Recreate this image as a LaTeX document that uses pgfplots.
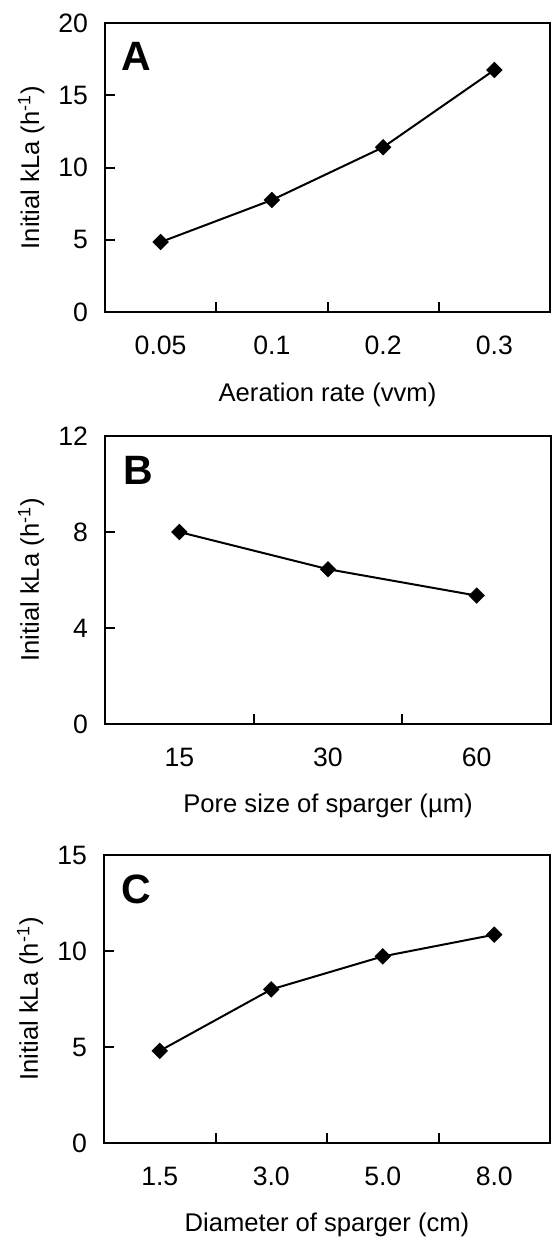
\documentclass[border=0pt]{standalone}
\usepackage{fontspec}
\setmainfont{Liberation Sans}
\usepackage{pgfplots}
\pgfplotsset{compat=1.18}

% shared look of the three kLa panels
\pgfplotsset{kla/.style={
    scale only axis, anchor=north west,
    axis line style={line width=1pt},
    every tick/.style={line width=1pt, black},
    tick align=inside, xtick pos=bottom, ytick pos=left,
    major tick length=5pt,
    xmin=0, ymin=0,
    xticklabels={},
    extra x tick style={major tick length=0pt},
    tick label style={font=\fontsize{13.3}{15}\selectfont},
    xticklabel style={yshift=-8.5pt},
    yticklabel style={xshift=-5pt},
    /pgf/number format/assume math mode=true,
    label style={font=\fontsize{12.8}{15}\selectfont},
    ylabel={Initial kLa (h\textsuperscript{-1})},
    ylabel style={at={(axis description cs:-0.148,0.5)}, anchor=base},
    xlabel style={at={(axis description cs:0.5,-0.308)}, anchor=base},
  }
}
\tikzset{panel/.style={font=\fontsize{20.5}{22}\selectfont\bfseries, inner sep=0pt, anchor=north west}}

\begin{document}
\begin{tikzpicture}
% A: aeration rate
\begin{axis}[kla, at={(52.5pt,-11.5pt)}, width=222.5pt, height=144.5pt,
    xmax=4, ymax=20, ytick={0,5,10,15,20},
    xtick={1,2,3},
    extra x ticks={0.5,1.5,2.5,3.5},
    extra x tick labels={0.05,0.1,0.2,0.3},
    xlabel={Aeration rate (vvm)}]
\addplot[black, line width=1pt, mark=square*, mark size=2.4pt, mark options={rotate=45}]
  coordinates {(0.5,4.84)(1.5,7.75)(2.5,11.4)(3.5,16.75)};
\node[panel] at (axis description cs:0.036,0.936) {A};
\end{axis}
% B: pore size
\begin{axis}[kla, at={(52.5pt,-218pt)}, width=223pt, height=144pt,
    xmax=3, ymax=12, ytick={0,4,8,12},
    xtick={1,2},
    extra x ticks={0.5,1.5,2.5},
    extra x tick labels={15,30,60},
    xlabel={Pore size of sparger (µm)}]
\addplot[black, line width=1pt, mark=square*, mark size=2.4pt, mark options={rotate=45}]
  coordinates {(0.5,8.0)(1.5,6.45)(2.5,5.35)};
\node[panel] at (axis description cs:0.04,0.931) {B};
\end{axis}
% C: sparger diameter
\begin{axis}[kla, at={(52pt,-427.5pt)}, width=223pt, height=144pt,
    xmax=4, ymax=15, ytick={0,5,10,15},
    xtick={1,2,3},
    extra x ticks={0.5,1.5,2.5,3.5},
    extra x tick labels={1.5,3.0,5.0,8.0},
    xlabel={Diameter of sparger (cm)}]
\addplot[black, line width=1pt, mark=square*, mark size=2.4pt, mark options={rotate=45}]
  coordinates {(0.5,4.8)(1.5,8.0)(2.5,9.72)(3.5,10.85)};
\node[panel] at (axis description cs:0.038,0.931) {C};
\end{axis}
\pgfresetboundingbox
\path[use as bounding box] (0,0) rectangle (276pt,-621pt);
\end{tikzpicture}
\end{document}
